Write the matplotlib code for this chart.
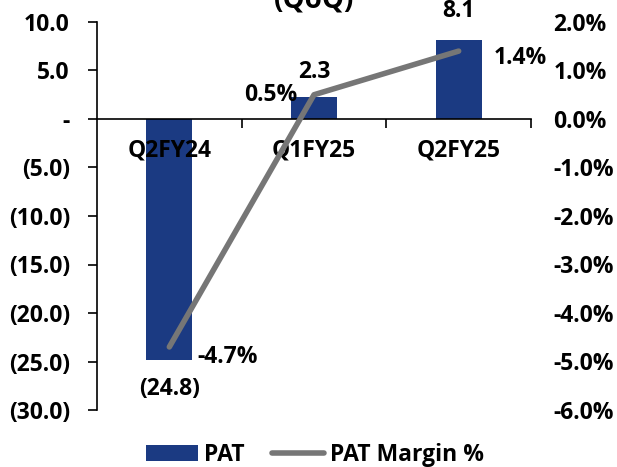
import matplotlib
matplotlib.use("Agg")
import matplotlib.pyplot as plt
from matplotlib.ticker import FixedLocator

categories = ["Q2FY24", "Q1FY25", "Q2FY25"]
pat = [-24.8, 2.3, 8.1]
pat_margin = [-4.7, 0.5, 1.4]
left_ticks = [10, 5, 0, -5, -10, -15, -20, -25, -30]
left_labels = ["10.0", "5.0", "-", "(5.0)", "(10.0)", "(15.0)", "(20.0)", "(25.0)", "(30.0)"]
right_ticks = [2, 1, 0, -1, -2, -3, -4, -5, -6]
right_labels = ["2.0%", "1.0%", "0.0%", "-1.0%", "-2.0%", "-3.0%", "-4.0%", "-5.0%", "-6.0%"]
pat_labels = ["(24.8)", "2.3", "8.1"]
margin_labels = ["-4.7%", "0.5%", "1.4%"]

plt.rcParams['font.family'] = ['Open Sans', 'DejaVu Sans']
plt.rcParams['font.weight'] = 'bold'
FS = 16.5
bar_color = "#1B3A82"
line_color = "#767676"

fig = plt.figure(figsize=(6.17, 4.67), dpi=100)
ax = fig.add_axes([97/617, 1-410/467, (531-97)/617, (410-22)/467])
x = list(range(len(categories)))
bars = ax.bar(x, pat, width=0.32, color=bar_color, label="PAT", zorder=1)
ax.set_xlim(-0.5, 2.5)
ax.set_ylim(-30, 10)
ax.set_yticks(left_ticks)
ax.set_yticklabels(left_labels, fontsize=FS, fontweight='bold')
ax.tick_params(axis='y', length=6.5, width=1.2, pad=13)
for s in ['top', 'right']:
    ax.spines[s].set_visible(False)
ax.spines['bottom'].set_position(('data', 0))
ax.spines['bottom'].set_linewidth(1.2)
ax.spines['left'].set_linewidth(1.2)
ax.set_xticks(x)
ax.set_xticklabels(categories, fontsize=FS, fontweight='bold')
ax.tick_params(axis='x', which='major', length=0, pad=14)
ax.xaxis.set_minor_locator(FixedLocator([0.5, 1.5, 2.5]))
ax.tick_params(axis='x', which='minor', length=6.5, width=1.2, direction='out')
ax.xaxis.set_zorder(3)

# bar labels
offs = [(0, -21), (0, 18), (0, 21)]
for i, (v, lab) in enumerate(zip(pat, pat_labels)):
    dx, dy = offs[i]
    ax.annotate(lab, (i, v), xytext=(dx, dy), textcoords='offset points',
                ha='center', va='center', fontsize=FS, fontweight='bold')

ax2 = ax.twinx()
line, = ax2.plot(x, pat_margin, color=line_color, lw=4, solid_capstyle='round',
                 solid_joinstyle='round', label="PAT Margin %", zorder=3)
ax2.set_ylim(-6, 2)
ax2.set_yticks(right_ticks)
ax2.set_yticklabels(right_labels, fontsize=FS, fontweight='bold')
ax2.tick_params(axis='y', length=0, pad=16)
for s in ['top', 'right', 'left', 'bottom']:
    ax2.spines[s].set_visible(False)

m_offs = [(20, -7, 'left'), (-12, 0, 'right'), (25, -5, 'left')]
for i, (v, lab) in enumerate(zip(pat_margin, margin_labels)):
    dx, dy, ha = m_offs[i]
    ax2.annotate(lab, (i, v), xytext=(dx, dy), textcoords='offset points',
                 ha=ha, va='center', fontsize=FS, fontweight='bold')

fig.text((97+531)/2/617, 1-8/467, "(QoQ)", ha='center', va='baseline', fontsize=20, fontweight='bold')

fig.legend([bars, line], ["PAT", "PAT Margin %"], loc='center', bbox_to_anchor=(315/617, 1-455/467),
           ncol=2, frameon=False, prop={'size': FS, 'weight': 'bold'}, handlelength=2.27,
           handletextpad=0.26, columnspacing=1.2, borderpad=0, borderaxespad=0)

fig.savefig("out.png", dpi=100)
